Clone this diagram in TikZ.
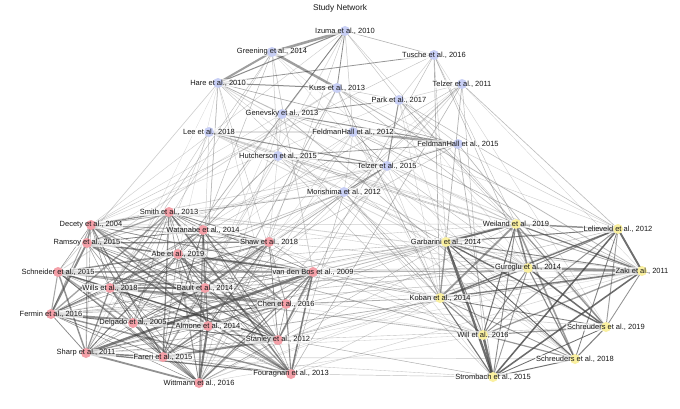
\documentclass[tikz,border=0pt]{standalone}
\usepackage{fontspec}
\setmainfont{Liberation Sans}
\pgfdeclarelayer{bg}
\pgfdeclarelayer{mid}
\pgfdeclarelayer{fg}
\pgfsetlayers{bg,mid,main,fg}
\definecolor{blueC}{HTML}{C8CFF5}
\definecolor{redC}{HTML}{F4A0A8}
\definecolor{yelC}{HTML}{FAF0A0}
\newcommand\studynode[5]{%
  \node[#1] (#2) at (#3,#4) {};
  \begin{pgfonlayer}{mid}\node[labbox] (#2B) at (#2) {\phantom{#5}};\end{pgfonlayer}
  \begin{pgfonlayer}{fg}\node[lab] (#2L) at (#2) {#5};\end{pgfonlayer}}
\newcommand\randedges[5]{% list1, list2, prob, wmin, wspan
  \foreach \a [count=\i] in {#1} {
    \foreach \b [count=\j] in {#2} {
      \pgfmathsetmacro\r{rnd}
      \ifdim\r pt<#3pt
        \pgfmathsetmacro\w{#4+#5*rnd*rnd}
        \pgfmathsetmacro\o{0.25+0.35*rnd}
        \draw[line width=\w pt, draw opacity=\o] (\a.center) -- (\b.center);
      \fi
    }
  }}
\newcommand\cliqueedges[5]{% list, prob, wmin, wspan, opacity base
  \foreach \a [count=\i] in {#1} {
    \foreach \b [count=\j] in {#1} {
      \ifnum\j>\i
      \pgfmathsetmacro\r{rnd}
      \ifdim\r pt<#2pt
        \pgfmathsetmacro\w{#3+#4*rnd*rnd}
        \pgfmathsetmacro\o{#5+0.3*rnd}
        \draw[line width=\w pt, draw opacity=\o] (\a.center) -- (\b.center);
      \fi
      \fi
    }
  }}
\begin{document}
\begin{tikzpicture}[x=1pt,y=-1pt,
  dotB/.style={circle,fill=blueC,inner sep=0pt,minimum size=10pt},
  dotR/.style={circle,fill=redC,inner sep=0pt,minimum size=10pt},
  dotY/.style={circle,fill=yelC,inner sep=0pt,minimum size=10pt},
  lab/.style={font=\fontsize{7.5}{8}\selectfont,inner sep=0.6pt,text=black!90},
  labbox/.style={font=\fontsize{7.5}{8}\selectfont,inner sep=0.8pt,fill=white,fill opacity=0.65},
  ttl/.style={font=\fontsize{8.3}{9}\selectfont,text=black!90}]
\useasboundingbox (0,0) rectangle (680,408);
\node[ttl] (title) at (340,8) {Study Network};
% blue
\studynode{dotB}{izuma}{345}{31}{Izuma et al., 2010}
\studynode{dotB}{greening}{272}{52}{Greening et al., 2014}
\studynode{dotB}{tusche}{434}{55}{Tusche et al., 2016}
\studynode{dotB}{hare}{218}{83}{Hare et al., 2010}
\studynode{dotB}{telzerA}{462}{84}{Telzer et al., 2011}
\studynode{dotB}{kuss}{337}{88}{Kuss et al., 2013}
\studynode{dotB}{park}{399}{100}{Park et al., 2017}
\studynode{dotB}{genevsky}{282}{114}{Genevsky et al., 2013}
\studynode{dotB}{lee}{209}{132}{Lee et al., 2018}
\studynode{dotB}{fhA}{353}{132}{FeldmanHall et al., 2012}
\studynode{dotB}{fhB}{458}{144}{FeldmanHall et al., 2015}
\studynode{dotB}{hutch}{278}{156}{Hutcherson et al., 2015}
\studynode{dotB}{telzerB}{387}{166}{Telzer et al., 2015}
\studynode{dotB}{morishima}{344}{192}{Morishima et al., 2012}
% red
\studynode{dotR}{smith}{169}{212}{Smith et al., 2013}
\studynode{dotR}{decety}{91}{225}{Decety et al., 2004}
\studynode{dotR}{watanabe}{203}{230}{Watanabe et al., 2014}
\studynode{dotR}{ramsoy}{87}{243}{Ramsoy et al., 2015}
\studynode{dotR}{shaw}{269}{242}{Shaw et al., 2018}
\studynode{dotR}{abe}{178}{254}{Abe et al., 2019}
\studynode{dotR}{schneider}{58}{272}{Schneider et al., 2015}
\studynode{dotR}{vdb}{313}{272}{van den Bos et al., 2009}
\studynode{dotR}{wills}{110}{288}{Wills et al., 2018}
\studynode{dotR}{bault}{205}{288}{Bault et al., 2014}
\studynode{dotR}{chen}{286}{304}{Chen et al., 2016}
\studynode{dotR}{fermin}{51}{314}{Fermin et al., 2016}
\studynode{dotR}{delgado}{133}{323}{Delgado et al., 2005}
\studynode{dotR}{almone}{208}{326}{Almone et al., 2014}
\studynode{dotR}{stanley}{278}{340}{Stanley et al., 2012}
\studynode{dotR}{sharp}{86}{353}{Sharp et al., 2011}
\studynode{dotR}{fareri}{163}{357}{Fareri et al., 2015}
\studynode{dotR}{fouragnan}{291}{374}{Fouragnan et al., 2013}
\studynode{dotR}{wittmann}{199}{383}{Wittmann et al., 2016}
% yellow
\studynode{dotY}{weiland}{516}{224}{Weiland et al., 2019}
\studynode{dotY}{lelieveld}{618}{229}{Lelieveld et al., 2012}
\studynode{dotY}{garbarini}{446}{242}{Garbarini et al., 2014}
\studynode{dotY}{guroglu}{528}{268}{Guroglu et al., 2014}
\studynode{dotY}{zaki}{642}{271}{Zaki et al., 2011}
\studynode{dotY}{koban}{440}{298}{Koban et al., 2014}
\studynode{dotY}{schrB}{606}{327}{Schreuders et al., 2019}
\studynode{dotY}{will}{483}{335}{Will et al., 2016}
\studynode{dotY}{schrA}{575}{359}{Schreuders et al., 2018}
\studynode{dotY}{strombach}{493}{377}{Strombach et al., 2015}
\begin{pgfonlayer}{bg}
\fill[white] (0,0) rectangle (680,408);
\pgfmathsetseed{11}
\begin{scope}[draw=black!75,line cap=round]
% blue cluster, explicit
\draw[line width=2.6pt,draw opacity=0.5] (izuma.center) -- (greening.center);
\draw[line width=2.4pt,draw opacity=0.5] (greening.center) -- (kuss.center);
\draw[line width=2pt,draw opacity=0.5] (greening.center) -- (hare.center);
\draw[line width=1pt,draw opacity=0.6] (izuma.center) -- (hare.center);
\draw[line width=1pt,draw opacity=0.6] (hare.center) -- (kuss.center);
\draw[line width=0.8pt,draw opacity=0.55] (hare.center) -- (tusche.center);
\draw[line width=0.8pt,draw opacity=0.6] (izuma.center) -- (kuss.center);
\draw[line width=0.7pt,draw opacity=0.6] (izuma.center) -- (genevsky.center);
\draw[line width=0.6pt,draw opacity=0.4] (izuma.center) -- (tusche.center);
\draw[line width=2.4pt,draw opacity=0.45] (fhA.center) -- (fhB.center);
\draw[line width=2pt,draw opacity=0.15] (lee.center) -- (fhA.center);
\draw[line width=1pt,draw opacity=0.55] (genevsky.center) -- (fhB.center);
\draw[line width=0.8pt,draw opacity=0.55] (genevsky.center) -- (park.center);
\draw[line width=1pt,draw opacity=0.55] (lee.center) -- (telzerB.center);
\draw[line width=1pt,draw opacity=0.55] (hutch.center) -- (telzerB.center);
\draw[line width=0.8pt,draw opacity=0.5] (hutch.center) -- (fhB.center);
\draw[line width=0.8pt,draw opacity=0.55] (telzerB.center) -- (morishima.center);
\draw[line width=1pt,draw opacity=0.55] (park.center) -- (telzerB.center);
\draw[line width=0.6pt,draw opacity=0.45] (hare.center) -- (fhB.center);
\draw[line width=0.8pt,draw opacity=0.5] (fhB.center) -- (telzerB.center);
\draw[line width=0.7pt,draw opacity=0.5] (fhA.center) -- (telzerB.center);
\draw[line width=0.6pt,draw opacity=0.35] (genevsky.center) -- (fhA.center);
\draw[line width=0.5pt,draw opacity=0.3] (greening.center) -- (hutch.center);
\draw[line width=0.5pt,draw opacity=0.3] (kuss.center) -- (park.center);
\draw[line width=0.5pt,draw opacity=0.3] (hare.center) -- (genevsky.center);
\draw[line width=0.5pt,draw opacity=0.3] (lee.center) -- (hutch.center);
\draw[line width=0.5pt,draw opacity=0.3] (izuma.center) -- (park.center);
\draw[line width=0.5pt,draw opacity=0.3] (izuma.center) -- (fhA.center);
\draw[line width=0.5pt,draw opacity=0.3] (park.center) -- (fhB.center);
\draw[line width=0.5pt,draw opacity=0.25] (telzerA.center) -- (park.center);
\draw[line width=0.5pt,draw opacity=0.25] (tusche.center) -- (park.center);
\draw[line width=0.5pt,draw opacity=0.25] (kuss.center) -- (fhA.center);
\draw[line width=0.5pt,draw opacity=0.25] (hutch.center) -- (morishima.center);
\draw[line width=0.5pt,draw opacity=0.25] (fhA.center) -- (morishima.center);
% red cluster
\cliqueedges{smith,decety,watanabe,ramsoy,shaw,abe,schneider,vdb,wills,bault,chen,fermin,delgado,almone,stanley,sharp,fareri,fouragnan,wittmann}{0.8}{0.4}{2.2}{0.4}
% yellow cluster
\cliqueedges{weiland,lelieveld,garbarini,guroglu,zaki,koban,schrB,will,schrA,strombach}{0.97}{0.8}{2.0}{0.5}
\end{scope}
\begin{scope}[draw=black!55,line cap=round]
% cross-cluster, lighter
\randedges{izuma,greening,tusche,hare,telzerA,kuss,park,genevsky,lee,fhA,fhB,hutch,telzerB,morishima}{smith,decety,watanabe,ramsoy,shaw,abe,schneider,vdb,wills,bault,chen,fermin,delgado,almone,stanley,sharp,fareri,fouragnan,wittmann}{0.22}{0.3}{0.6}
\randedges{izuma,greening,tusche,hare,telzerA,kuss,park,genevsky,lee,fhA,fhB,hutch,telzerB,morishima}{weiland,lelieveld,garbarini,guroglu,zaki,koban,schrB,will,schrA,strombach}{0.35}{0.3}{0.7}
\randedges{smith,decety,watanabe,ramsoy,shaw,abe,schneider,vdb,wills,bault,chen,fermin,delgado,almone,stanley,sharp,fareri,fouragnan,wittmann}{weiland,lelieveld,garbarini,guroglu,zaki,koban,schrB,will,schrA,strombach}{0.3}{0.3}{0.7}
\end{scope}
\end{pgfonlayer}
\end{tikzpicture}
\end{document}
